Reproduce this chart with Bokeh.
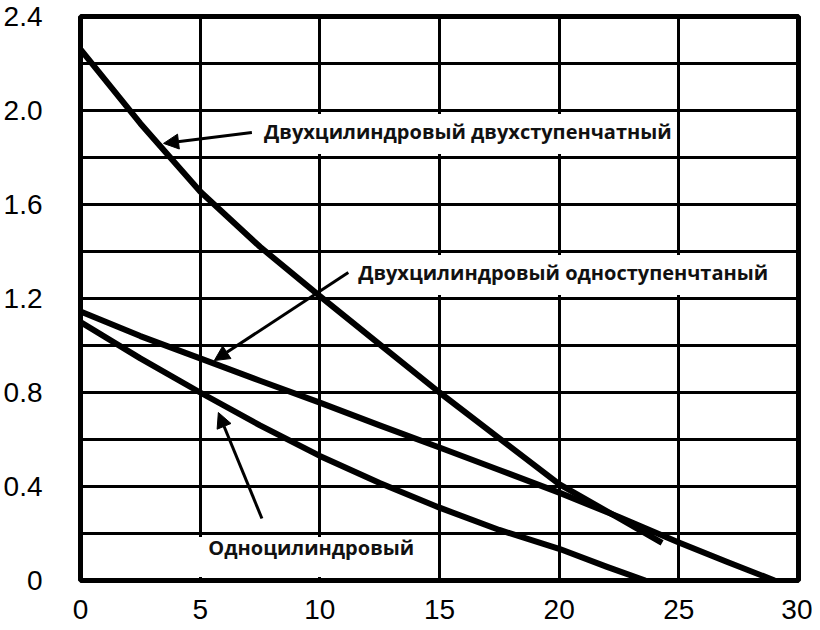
from bokeh.plotting import figure
from bokeh.models import Arrow, NormalHead, Range1d
from bokeh.embed import file_html
from bokeh.resources import INLINE
from bokeh.core.properties import value

# ---- data ----
x_ticks = [0, 5, 10, 15, 20, 25, 30]
y_ticks = [0, 0.4, 0.8, 1.2, 1.6, 2.0, 2.4]
y_tick_labels = ["0", "0.4", "0.8", "1.2", "1.6", "2.0", "2.4"]
y_grid = [0, 0.2, 0.4, 0.6, 0.8, 1.0, 1.2, 1.4, 1.6, 1.8, 2.0, 2.2, 2.4]

two_stage_x = [0, 2.5, 5, 7.5, 10, 12.5, 15, 17.5, 20, 22.5, 24.3]
two_stage_y = [2.26, 1.945, 1.655, 1.42, 1.21, 1.005, 0.80, 0.605, 0.41, 0.265, 0.16]

one_stage_x = [0, 2.5, 5, 7.5, 10, 12.5, 15, 17.5, 20, 22.5, 25, 27, 29]
one_stage_y = [1.145, 1.04, 0.945, 0.85, 0.757, 0.66, 0.566, 0.47, 0.374, 0.27, 0.162, 0.08, 0.0]

single_x = [0, 2.5, 5, 7.5, 10, 12.5, 15, 17.5, 20, 22, 23.6]
single_y = [1.10, 0.945, 0.80, 0.66, 0.53, 0.415, 0.31, 0.215, 0.135, 0.058, 0.0]

label_texts = ["Двухцилиндровый двухступенчатный",
               "Двухцилиндровый одноступенчтаный",
               "Одноцилиндровый"]

# ---- annotation placement ----
label_x = [7.67, 11.6, 5.34]
label_y = [1.91, 1.31, 0.14]
box_left = [7.3, 11.35, 4.9]
box_right = [24.7, 29.75, 14.75]
box_bottom = [1.815, 1.215, 0.015]
box_top = [1.985, 1.385, 0.185]

arrows = [
    (7.16, 1.906, 3.47, 1.86),
    (11.19, 1.311, 5.59, 0.936),
    (7.58, 0.264, 5.76, 0.715),
]

p = figure(width=812, height=626, output_backend="svg", toolbar_location=None,
           x_range=Range1d(0, 30), y_range=Range1d(0, 2.4),
           min_border_left=73, min_border_right=14,
           min_border_top=16, min_border_bottom=46)

p.background_fill_color = "white"
p.border_fill_color = "white"
p.outline_line_color = "black"
p.outline_line_width = 5

p.xgrid.ticker = x_ticks
p.ygrid.ticker = y_grid
for g in (p.xgrid, p.ygrid):
    g.grid_line_color = "black"
    g.grid_line_width = 3
    g.grid_line_alpha = 1.0

p.xaxis.ticker = x_ticks
p.yaxis.ticker = y_ticks
p.yaxis.major_label_overrides = {t: s for t, s in zip(y_ticks, y_tick_labels)}
for ax in (p.xaxis, p.yaxis):
    ax.axis_line_color = None
    ax.major_tick_line_color = None
    ax.minor_tick_line_color = None
    ax.major_label_text_font = "Liberation Sans"
    ax.major_label_text_font_size = "28px"
    ax.major_label_text_color = "black"
p.xaxis.major_label_standoff = 13
p.yaxis.major_label_standoff = 32

# white boxes behind the labels
p.quad(left=box_left, right=box_right, bottom=box_bottom, top=box_top,
       fill_color="white", line_color=None)

# curves
for xs, ys in ((two_stage_x, two_stage_y), (one_stage_x, one_stage_y), (single_x, single_y)):
    p.line(xs, ys, line_color="black", line_width=6, line_join="round")

# labels
p.text(x=label_x, y=label_y, text=label_texts, text_font=value("Open Sans"),
       text_font_style="bold", text_font_size="20px", text_baseline="middle",
       text_align="left", text_color="#111111")

for xs, ys, xe, ye in arrows:
    p.add_layout(Arrow(end=NormalHead(size=15, fill_color="black", line_color="black"),
                       x_start=xs, y_start=ys, x_end=xe, y_end=ye,
                       line_width=3, line_color="black"))

open("out.html", "w").write(file_html(p, INLINE))
